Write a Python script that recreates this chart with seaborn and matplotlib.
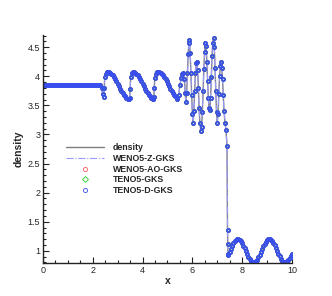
import matplotlib
matplotlib.use("Agg")
import matplotlib.pyplot as plt
import seaborn as sns
from matplotlib.ticker import MultipleLocator, FormatStrFormatter

# Shu-Osher density profile
x_flat = [0.00, 0.05, 0.10, 0.15, 0.20, 0.25, 0.30, 0.35, 0.40, 0.45,
          0.50, 0.55, 0.60, 0.65, 0.70, 0.75, 0.80, 0.85, 0.90, 0.95,
          1.00, 1.05, 1.10, 1.15, 1.20, 1.25, 1.30, 1.35, 1.40, 1.45,
          1.50, 1.55, 1.60, 1.65, 1.70, 1.75, 1.80, 1.85, 1.90, 1.95,
          2.00, 2.05, 2.10, 2.15, 2.20, 2.25]
rho_flat = [3.857, 3.857, 3.857, 3.857, 3.857, 3.857, 3.857, 3.857, 3.857, 3.857,
            3.857, 3.857, 3.857, 3.857, 3.857, 3.857, 3.857, 3.857, 3.857, 3.857,
            3.857, 3.857, 3.857, 3.857, 3.857, 3.857, 3.857, 3.857, 3.857, 3.857,
            3.857, 3.857, 3.857, 3.857, 3.857, 3.857, 3.857, 3.857, 3.857, 3.857,
            3.857, 3.857, 3.857, 3.857, 3.857, 3.857]

x_waves = [2.30, 2.35, 2.40, 2.43, 2.46, 2.48, 2.52, 2.56, 2.60, 2.65,
           2.70, 2.75, 2.80, 2.85, 2.90, 2.95, 3.00, 3.05, 3.10, 3.15,
           3.20, 3.25, 3.30, 3.35, 3.40, 3.45, 3.48, 3.50, 3.52, 3.56,
           3.60, 3.65, 3.70, 3.75, 3.80, 3.85, 3.90, 3.95, 4.00, 4.05,
           4.10, 4.15, 4.20, 4.25, 4.30, 4.35, 4.40, 4.43, 4.45, 4.47,
           4.49, 4.53, 4.58, 4.62, 4.67, 4.72, 4.77, 4.82, 4.87, 4.92,
           4.97, 5.02, 5.07, 5.12, 5.17, 5.22, 5.27, 5.32, 5.37, 5.40]
rho_waves = [3.845, 3.800, 3.700, 3.650, 3.800, 3.980, 4.040, 4.070, 4.076, 4.072,
             4.061, 4.043, 4.018, 3.987, 3.952, 3.913, 3.872, 3.830, 3.789, 3.749,
             3.712, 3.680, 3.653, 3.631, 3.617, 3.610, 3.620, 3.780, 3.980, 4.050,
             4.075, 4.072, 4.061, 4.043, 4.018, 3.987, 3.952, 3.913, 3.872, 3.830,
             3.789, 3.749, 3.712, 3.680, 3.653, 3.631, 3.617, 3.610, 3.640, 3.800,
             3.970, 4.040, 4.070, 4.076, 4.072, 4.061, 4.043, 4.018, 3.987, 3.952,
             3.913, 3.872, 3.830, 3.789, 3.749, 3.712, 3.680, 3.653, 3.625, 3.615]

x_osc = [5.45, 5.50, 5.55, 5.60, 5.64, 5.68, 5.71, 5.74, 5.77, 5.80,
         5.83, 5.86, 5.88, 5.91, 5.94, 5.97, 6.00, 6.03, 6.06, 6.09,
         6.12, 6.15, 6.18, 6.21, 6.24, 6.27, 6.30, 6.34, 6.37, 6.40,
         6.43, 6.46, 6.49, 6.52, 6.55, 6.58, 6.61, 6.64, 6.67, 6.70,
         6.73, 6.76, 6.79, 6.82, 6.85, 6.88, 6.91, 6.94, 6.97, 7.00,
         7.03, 7.06, 7.09, 7.12, 7.15, 7.18, 7.21, 7.24, 7.27, 7.31,
         7.35, 7.39, 7.41, 7.42, 7.43]
rho_osc = [3.68, 3.85, 3.97, 4.04, 4.05, 3.95, 3.72, 3.55, 3.72, 4.05,
           4.38, 4.58, 4.62, 4.40, 4.05, 3.68, 3.35, 3.20, 3.40, 3.75,
           4.05, 4.22, 4.25, 4.10, 3.80, 3.45, 3.20, 3.06, 3.12, 3.38,
           3.75, 4.12, 4.42, 4.58, 4.52, 4.25, 3.92, 3.62, 3.45, 3.42,
           3.62, 3.98, 4.35, 4.58, 4.66, 4.50, 4.15, 3.75, 3.38, 3.20,
           3.35, 3.70, 4.00, 4.18, 4.25, 4.15, 3.95, 3.68, 3.40, 3.20,
           3.08, 2.81, 1.36, 1.12, 0.92]

x_pre = [7.45, 7.50, 7.55, 7.60, 7.65, 7.70, 7.75, 7.80, 7.85, 7.90,
         7.95, 8.00, 8.05, 8.10, 8.15, 8.20, 8.25, 8.30, 8.35, 8.40,
         8.45, 8.50, 8.55, 8.60, 8.65, 8.70, 8.75, 8.80, 8.85, 8.90,
         8.95, 9.00, 9.05, 9.10, 9.15, 9.20, 9.25, 9.30, 9.35, 9.40,
         9.45, 9.50, 9.55, 9.60, 9.65, 9.70, 9.75, 9.80, 9.85, 9.90,
         9.95, 10.00]
rho_pre = [0.938, 0.987, 1.037, 1.084, 1.126, 1.161, 1.185, 1.198, 1.199, 1.187,
           1.164, 1.130, 1.088, 1.041, 0.992, 0.942, 0.897, 0.858, 0.827, 0.808,
           0.800, 0.805, 0.822, 0.850, 0.887, 0.931, 0.980, 1.030, 1.078, 1.121,
           1.157, 1.183, 1.197, 1.199, 1.189, 1.167, 1.135, 1.094, 1.048, 0.998,
           0.949, 0.902, 0.862, 0.831, 0.810, 0.800, 0.804, 0.819, 0.846, 0.882,
           0.912, 0.945]

x = x_flat + x_waves + x_osc + x_pre
rho = rho_flat + rho_waves + rho_osc + rho_pre

sns.set_style("ticks")
plt.rcParams['font.family'] = ['Liberation Sans', 'DejaVu Sans']

fig = plt.figure(figsize=(3.32, 2.96), dpi=100)
ax = fig.add_axes([0.1295, 0.1115, 0.75, 0.7703])

sns.lineplot(x=x, y=rho, ax=ax, estimator=None, sort=False, color='#7f7f7f',
             linewidth=1.0, label='density')
sns.lineplot(x=x, y=rho, ax=ax, estimator=None, sort=False, color='#9a9aff',
             linewidth=0.8, linestyle='-.', label='WENO5-Z-GKS')
sns.lineplot(x=x, y=rho, ax=ax, estimator=None, sort=False, linestyle='',
             marker='o', markersize=2.3, markerfacecolor='none',
             markeredgecolor='#ff5a5a', markeredgewidth=1.1, label='WENO5-AO-GKS')
sns.lineplot(x=x, y=rho, ax=ax, estimator=None, sort=False, linestyle='',
             marker='D', markersize=2.0, markerfacecolor='none',
             markeredgecolor='#22cc22', markeredgewidth=1.0, label='TENO5-GKS')
sns.lineplot(x=x, y=rho, ax=ax, estimator=None, sort=False, linestyle='',
             marker='o', markersize=2.3, markerfacecolor='none',
             markeredgecolor='#3a4ef0', markeredgewidth=1.2, label='TENO5-D-GKS')

ax.set_xlim(0, 10)
ax.set_ylim(0.79, 4.71)
ax.xaxis.set_major_locator(MultipleLocator(2))
ax.xaxis.set_minor_locator(MultipleLocator(0.5))
ax.yaxis.set_major_locator(MultipleLocator(0.5))
ax.yaxis.set_minor_locator(MultipleLocator(0.1))
ax.yaxis.set_major_formatter(FormatStrFormatter('%g'))
ax.tick_params(which='both', direction='in', labelsize=6.5, width=0.8, color='#222222')
ax.tick_params(which='major', length=4, pad=2)
ax.tick_params(which='minor', length=2)

sns.despine(ax=ax)
for side in ['left', 'bottom']:
    ax.spines[side].set_linewidth(1.0)
    ax.spines[side].set_color('#222222')

ax.set_xlabel('x', fontsize=7.5, fontweight='bold', labelpad=1)
ax.set_ylabel('density', fontsize=7.5, fontweight='bold', labelpad=3)

leg = ax.legend(loc='upper left', bbox_to_anchor=(0.06, 0.56), frameon=False,
                handlelength=4.4, handletextpad=1.0, labelspacing=0.2,
                numpoints=1, prop={'weight': 'bold', 'size': 6.3})
for h in leg.legend_handles[2:]:
    h.set_markeredgewidth(0.6)
    h.set_markersize(3.0)

fig.savefig('out.png', dpi=100)
